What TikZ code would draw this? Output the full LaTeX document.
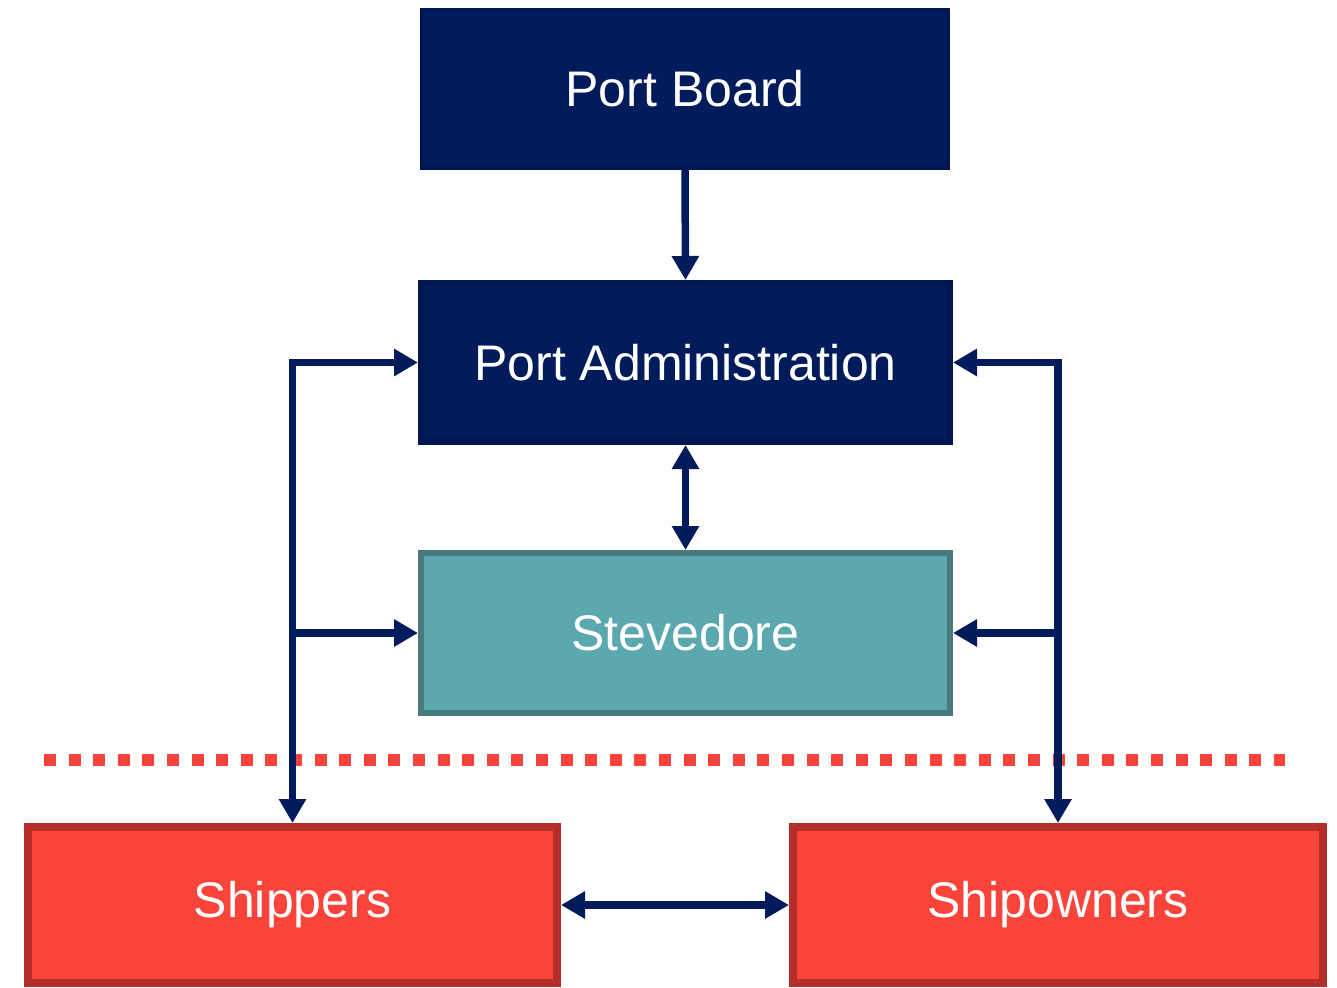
\documentclass[tikz,border=0pt]{standalone}
\usepackage{fontspec}
\setmainfont{Liberation Sans}
\usetikzlibrary{arrows.meta}
\definecolor{navy}{HTML}{021C5B}
\definecolor{navyb}{HTML}{011650}
\definecolor{teal}{HTML}{5BA8AE}
\definecolor{tealb}{HTML}{47797D}
\definecolor{redf}{HTML}{F9443B}
\definecolor{redb}{HTML}{B42E2A}
\definecolor{dashred}{HTML}{F5433B}
\tikzset{
  box/.style={rectangle, inner sep=0pt, text=white, font=\fontsize{50}{56}\selectfont},
  navybox/.style={box, fill=navy, draw=navyb},
  tealbox/.style={box, fill=teal, draw=tealb, line width=6pt},
  redbox/.style={box, fill=redf, draw=redb, line width=8pt},
  conn/.style={draw=navy, line width=7.5pt, arrows={-Triangle[length=24pt,width=26pt]}},
  conn2/.style={draw=navy, line width=7.5pt, arrows={Triangle[length=24pt,width=26pt]-Triangle[length=24pt,width=26pt]}},
}
\begin{document}
\begin{tikzpicture}[x=1pt,y=-1pt]
\useasboundingbox[fill=white] (0,0) rectangle (1337,987);
\node[navybox, line width=3pt, minimum width=527pt, minimum height=159pt] (pb) at (685,89) {Port Board};
\node[navybox, line width=6pt, minimum width=529pt, minimum height=159pt] (pa) at (685.5,362.5) {Port Administration};
\node[tealbox, minimum width=529pt, minimum height=160pt] (st) at (685.5,633) {Stevedore};
\node[redbox, minimum width=529pt, minimum height=156pt] (sh) at (292.5,905) {Shippers};
\node[redbox, minimum width=530pt, minimum height=156pt] (so) at (1058,905) {Shipowners};
\draw[dashred, line width=12pt, dash pattern=on 12pt off 12.6pt] (44,760) -- (1285,760);
\draw[conn] (pb.south) -- (pa.north);
\draw[conn2] (pa.south) -- (st.north);
\draw[conn2, line join=miter] (pa.west) -- (sh.north |- pa.west) -- (sh.north);
\draw[conn] (sh.north |- st.west) -- (st.west);
\draw[conn2, line join=miter] (pa.east) -- (so.north |- pa.east) -- (so.north);
\draw[conn] (so.north |- st.east) -- (st.east);
\draw[conn2] (sh.east) -- (so.west);
\end{tikzpicture}
\end{document}
